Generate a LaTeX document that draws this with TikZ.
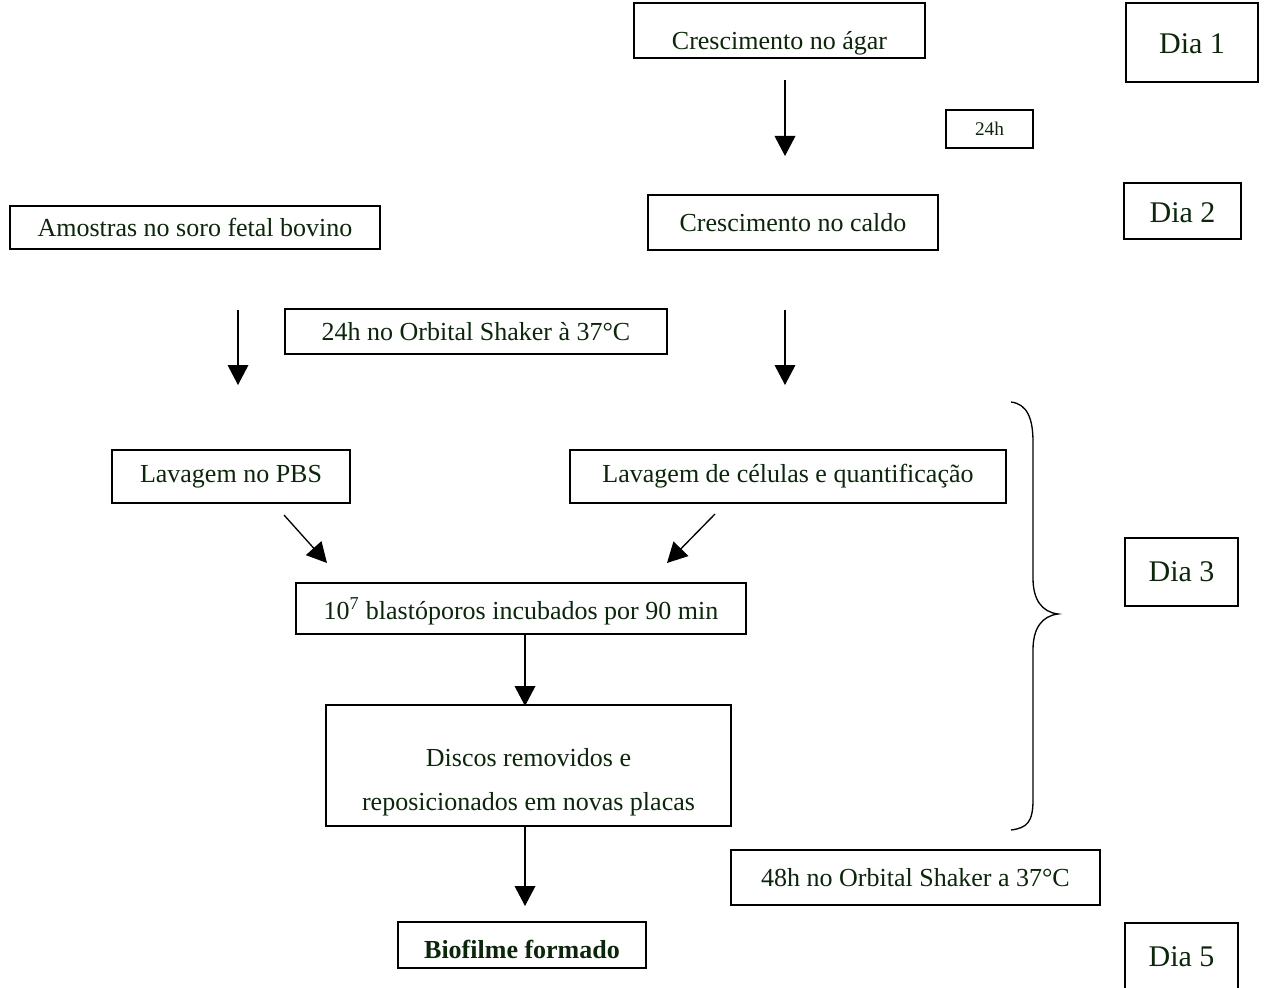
\documentclass[tikz,border=0pt]{standalone}
\usepackage{fontspec}
\setmainfont{Liberation Serif}
\usetikzlibrary{arrows.meta}
\definecolor{txtgreen}{RGB}{12,38,12}
\newcommand{\mvtext}[2]{\raisebox{#1}[\height][\depth]{#2}}
\tikzset{
  box/.style={draw=black, line width=1pt, rectangle, inner sep=0pt, text=txtgreen,
    font=\fontsize{19.5}{23}\selectfont, align=center},
  daybox/.style={box, font=\fontsize{22.5}{26}\selectfont},
  smallbox/.style={box, font=\fontsize{14.5}{17}\selectfont},
  arr/.style={line width=1pt, -{Triangle[length=15pt,width=15.5pt]}},
}
\begin{document}
\begin{tikzpicture}[x=0.75pt,y=-0.75pt]
\clip (0,0) rectangle (1268,988);
\fill[white] (0,0) rectangle (1268,988);

\node[box, minimum width=291*0.75pt, minimum height=55*0.75pt] (agar) at (779.5,30.5) {\mvtext{-9.5pt}{Crescimento no ágar}};
\node[daybox, minimum width=132*0.75pt, minimum height=79*0.75pt] (dia1) at (1192,42.5) {\mvtext{-1pt}{Dia 1}};
\node[smallbox, minimum width=87*0.75pt, minimum height=38*0.75pt] (h24) at (989.5,129) {24h};
\node[daybox, minimum width=117*0.75pt, minimum height=56*0.75pt] (dia2) at (1182.5,211) {\mvtext{-1.5pt}{Dia 2}};
\node[box, minimum width=290*0.75pt, minimum height=55*0.75pt] (caldo) at (793,222.5) {Crescimento no caldo};
\node[box, minimum width=370*0.75pt, minimum height=43*0.75pt] (amostras) at (195,227.5) {Amostras no soro fetal bovino};
\node[box, minimum width=382*0.75pt, minimum height=45*0.75pt] (sh24) at (476,331.5) {24h no Orbital Shaker à 37°C};
\node[box, minimum width=238*0.75pt, minimum height=53*0.75pt] (pbs) at (231,476.5) {Lavagem no PBS};
\node[box, minimum width=436*0.75pt, minimum height=53*0.75pt] (cel) at (788,476.5) {Lavagem de células e quantificação};
\node[daybox, minimum width=113*0.75pt, minimum height=68*0.75pt] (dia3) at (1181.5,572) {Dia 3};
\node[box, minimum width=450*0.75pt, minimum height=51*0.75pt] (blasto) at (521,608.5) {\mvtext{-2pt}{10\textsuperscript{7} blastóporos incubados por 90 min}};
\node[box, minimum width=405*0.75pt, minimum height=121*0.75pt, font=\fontsize{19.5}{33}\selectfont] (discos) at (528.5,765.5)
  {\mvtext{-11pt}{\begin{tabular}{@{}c@{}}Discos removidos e\\reposicionados em novas placas\end{tabular}}};
\node[box, minimum width=369*0.75pt, minimum height=55*0.75pt] (sh48) at (915.5,877.5) {48h no Orbital Shaker a 37°C};
\node[box, minimum width=248*0.75pt, minimum height=46*0.75pt, font=\fontsize{19.5}{23}\selectfont\bfseries] (bio) at (522,945) {\mvtext{-3.5pt}{Biofilme formado}};
\node[daybox, minimum width=113*0.75pt, minimum height=75*0.75pt] (dia5) at (1181.5,960.5) {\mvtext{2.5pt}{Dia 5}};

% arrow end points
\coordinate (a1s) at (785,80);   \coordinate (a1e) at (785,156);
\coordinate (aLs) at (238,310);  \coordinate (aLe) at (238,385);
\coordinate (aRs) at (785,310);  \coordinate (aRe) at (785,385);
\coordinate (dLs) at (284,515);  \coordinate (dLe) at (327,563);
\coordinate (dRs) at (715,514);  \coordinate (dRe) at (667,563);
\coordinate (a3e) at (525,706);
\coordinate (a4e) at (525,906);

\draw[arr] (a1s) -- (a1e);
\draw[arr] (aLs) -- (aLe);
\draw[arr] (aRs) -- (aRe);
\draw[arr] (dLs) -- (dLe);
\draw[arr] (dRs) -- (dRe);
\draw[arr] (blasto.south -| a3e) -- (a3e);
\draw[arr] (discos.south -| a4e) -- (a4e);

% brace
\coordinate (brT) at (1011,402);
\coordinate (brM) at (1058,614);
\coordinate (brB) at (1011,830);
\draw[line width=1pt]
  (brT) .. controls (1027,404) and (1033,418) .. (1033,442)
  -- (1033,578) .. controls (1033,600) and (1042,612) .. (brM)
  .. controls (1042,616) and (1033,628) .. (1033,650)
  -- (1033,800) .. controls (1033,822) and (1027,828) .. (brB);
\end{tikzpicture}
\end{document}
